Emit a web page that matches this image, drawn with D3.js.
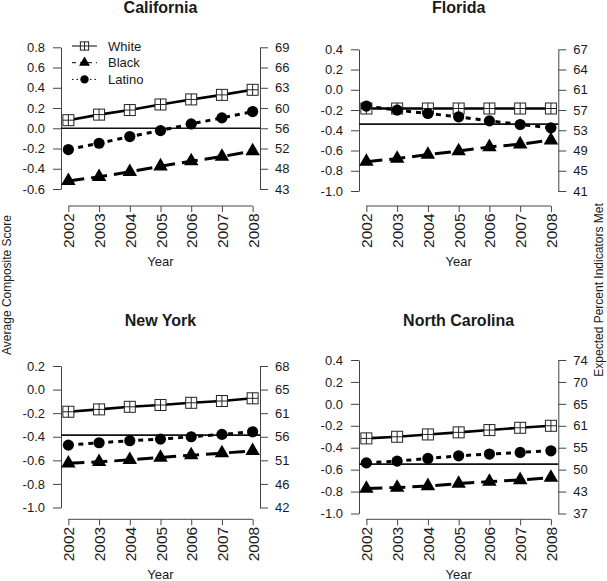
<!DOCTYPE html>
<html><head><meta charset="utf-8">
<script src="https://cdn.jsdelivr.net/npm/d3@7"></script>
<style>
html,body{margin:0;padding:0;background:#fff;}
svg{display:block;font-family:"Liberation Sans",Arial,Helvetica,sans-serif;}
</style></head>
<body><svg id="chart" width="607" height="581"></svg>
<script>
// ---------- DATA ----------
const years = [2002, 2003, 2004, 2005, 2006, 2007, 2008];
const states = ["California", "Florida", "New York", "North Carolina"];
const groups = ["White", "Black", "Latino"];

const caWhite  = [0.08, 0.135, 0.18, 0.235, 0.285, 0.33, 0.38];
const caBlack  = [-0.52, -0.48, -0.43, -0.375, -0.325, -0.28, -0.225];
const caLatino = [-0.21, -0.148, -0.082, -0.023, 0.043, 0.103, 0.165];

const flWhite  = [-0.185, -0.185, -0.185, -0.185, -0.185, -0.185, -0.185];
const flBlack  = [-0.71, -0.68, -0.64, -0.605, -0.565, -0.538, -0.498];
const flLatino = [-0.161, -0.201, -0.234, -0.267, -0.307, -0.343, -0.376];

const nyWhite  = [-0.188, -0.168, -0.146, -0.131, -0.112, -0.097, -0.074];
const nyBlack  = [-0.625, -0.613, -0.596, -0.576, -0.556, -0.539, -0.52];
const nyLatino = [-0.471, -0.451, -0.434, -0.42, -0.40, -0.38, -0.358];

const ncWhite  = [-0.315, -0.30, -0.279, -0.26, -0.239, -0.218, -0.20];
const ncBlack  = [-0.773, -0.764, -0.749, -0.727, -0.709, -0.694, -0.672];
const ncLatino = [-0.538, -0.522, -0.498, -0.474, -0.458, -0.443, -0.428];

const referenceLevel = [0.0, -0.34, -0.386, -0.55];

const caTicks = [-0.6, -0.4, -0.2, 0.0, 0.2, 0.4, 0.6, 0.8];
const flTicks = [-1.0, -0.8, -0.6, -0.4, -0.2, 0.0, 0.2, 0.4];
const nyTicks = [-1.0, -0.8, -0.6, -0.4, -0.2, 0.0, 0.2];
const ncTicks = [-1.0, -0.8, -0.6, -0.4, -0.2, 0.0, 0.2, 0.4];

const caRightLabels = ["43", "48", "52", "56", "60", "63", "66", "69"];
const flRightLabels = ["41", "45", "49", "53", "57", "61", "64", "67"];
const nyRightLabels = ["42", "46", "51", "56", "61", "65", "68"];
const ncRightLabels = ["37", "43", "50", "55", "61", "65", "70", "74"];

const leftTitle = "Average Composite Score";
const rightTitle = "Expected Percent Indicators Met";
const xTitle = "Year";

// ---------- LAYOUT ----------
const layout = [
  {left: 61,  right: 260,   yTop: 47.3, yBot: 189,   axisY: 206,   titleY: 12.5, yearY: 266},
  {left: 359, right: 558.3, yTop: 49.3, yBot: 191,   axisY: 206,   titleY: 12.5, yearY: 266},
  {left: 61,  right: 260,   yTop: 366,  yBot: 507.5, axisY: 519.3, titleY: 326,  yearY: 579},
  {left: 359, right: 558.3, yTop: 360,  yBot: 513.5, axisY: 519.3, titleY: 326,  yearY: 579}
];
const panelData = [
  {White: caWhite, Black: caBlack, Latino: caLatino, ticks: caTicks, right: caRightLabels},
  {White: flWhite, Black: flBlack, Latino: flLatino, ticks: flTicks, right: flRightLabels},
  {White: nyWhite, Black: nyBlack, Latino: nyLatino, ticks: nyTicks, right: nyRightLabels},
  {White: ncWhite, Black: ncBlack, Latino: ncLatino, ticks: ncTicks, right: ncRightLabels}
];

const lineStyle = {
  White:  {dash: null,  width: 2.6},
  Black:  {dash: "16,7", width: 3},
  Latino: {dash: "5,5",  width: 3}
};
const legendDash = {White: null, Black: "4,4", Latino: "1.5,3"};
const axisColor = "#444";
const textColor = "#1a1a1a";

const svg = d3.select("#chart");

function drawMarker(g, group, cx, cy, scale) {
  if (group === "White") {
    const s = 11 * scale, h = s / 2;
    const m = g.append("g").attr("transform", `translate(${cx},${cy})`);
    m.append("rect").attr("x", -h).attr("y", -h).attr("width", s).attr("height", s)
      .attr("fill", "#fff").attr("stroke", "#222").attr("stroke-width", 1);
    m.append("line").attr("x1", -h).attr("x2", h).attr("y1", 0).attr("y2", 0)
      .attr("stroke", "#222").attr("stroke-width", 1);
    m.append("line").attr("x1", 0).attr("x2", 0).attr("y1", -h).attr("y2", h)
      .attr("stroke", "#222").attr("stroke-width", 1);
  } else if (group === "Black") {
    const w = 14.5 * scale;
    g.append("path").attr("d", d3.symbol(d3.symbolTriangle, Math.sqrt(3) / 4 * w * w)())
      .attr("transform", `translate(${cx},${cy})`).attr("fill", "#000");
  } else {
    g.append("circle").attr("cx", cx).attr("cy", cy).attr("r", 5.6 * scale).attr("fill", "#000");
  }
}

states.forEach((name, i) => {
  const L = layout[i], D = panelData[i];
  const g = svg.append("g");
  const x = d3.scaleLinear()
    .domain([years[0] - 0.04 * (years[6] - years[0]), years[6] + 0.04 * (years[6] - years[0])])
    .range([L.left, L.right]);
  const y = d3.scaleLinear()
    .domain([D.ticks[0], D.ticks[D.ticks.length - 1]])
    .range([L.yBot, L.yTop]);

  g.append("text").attr("x", (L.left + L.right) / 2).attr("y", L.titleY)
    .attr("text-anchor", "middle").attr("font-weight", "bold").attr("font-size", 16)
    .attr("fill", textColor).text(name);

  const ax = g.append("g").attr("transform", `translate(${L.left},0)`)
    .call(d3.axisLeft(y).tickValues(D.ticks).tickFormat(d3.format(".1f"))
      .tickSize(8).tickSizeOuter(0).tickPadding(8));
  const ar = g.append("g").attr("transform", `translate(${L.right},0)`)
    .call(d3.axisRight(y).tickValues(D.ticks).tickFormat((d, k) => D.right[k])
      .tickSize(8).tickSizeOuter(0).tickPadding(7));
  [ax, ar].forEach(a => {
    a.select(".domain").attr("stroke", axisColor);
    a.selectAll(".tick line").attr("stroke", axisColor);
    a.selectAll(".tick text").attr("font-size", 13).attr("fill", textColor)
      .attr("font-family", "Liberation Sans, Arial, sans-serif");
  });
  ax.selectAll(".tick text").text(d => d3.format(".1f")(d).replace("−", "-"));

  const axb = g.append("g").attr("transform", `translate(0,${L.axisY})`)
    .call(d3.axisBottom(x).tickValues(years).tickFormat(d3.format("d")).tickSize(6).tickSizeOuter(0));
  axb.select(".domain").remove();
  axb.append("line").attr("x1", x(years[0])).attr("x2", x(years[years.length - 1]))
    .attr("y1", 0).attr("y2", 0).attr("stroke", axisColor);
  axb.selectAll(".tick line").attr("stroke", axisColor);
  axb.selectAll(".tick text").attr("font-size", 15.5).attr("fill", textColor)
    .attr("font-family", "Liberation Sans, Arial, sans-serif")
    .attr("transform", "rotate(-90)").attr("text-anchor", "end")
    .attr("x", -7.5).attr("y", 0).attr("dy", "0.36em");

  g.append("text").attr("x", (L.left + L.right) / 2).attr("y", L.yearY)
    .attr("text-anchor", "middle").attr("font-size", 13).attr("fill", textColor).text(xTitle);

  g.append("line").attr("x1", L.left).attr("x2", L.right)
    .attr("y1", y(referenceLevel[i])).attr("y2", y(referenceLevel[i]))
    .attr("stroke", "#111").attr("stroke-width", 1.7);

  const line = d3.line().x((d, k) => x(years[k])).y(d => y(d));
  groups.forEach(grp => {
    g.append("path").datum(D[grp]).attr("d", line).attr("fill", "none")
      .attr("stroke", "#000").attr("stroke-width", lineStyle[grp].width)
      .attr("stroke-dasharray", lineStyle[grp].dash);
  });
  groups.forEach(grp => {
    D[grp].forEach((v, k) => drawMarker(g, grp, x(years[k]), y(v), 1));
  });

  if (i === 0) {
    const lg = g.append("g");
    groups.forEach((grp, k) => {
      const ly = 46 + k * 16.7;
      lg.append("line").attr("x1", 72).attr("x2", 97).attr("y1", ly).attr("y2", ly)
        .attr("stroke", "#000").attr("stroke-width", 1).attr("stroke-dasharray", legendDash[grp]);
      drawMarker(lg, grp, 84.5, ly, 0.75);
      lg.append("text").attr("x", 108).attr("y", ly).attr("dy", "0.35em")
        .attr("font-size", 13).attr("fill", textColor).text(grp);
    });
  }
});

svg.append("text").attr("transform", "translate(11,285) rotate(-90)")
  .attr("text-anchor", "middle").attr("font-size", 12).attr("fill", textColor).text(leftTitle);
svg.append("text").attr("transform", "translate(603,290) rotate(-90)")
  .attr("text-anchor", "middle").attr("font-size", 12).attr("fill", textColor).text(rightTitle);
</script>
</body></html>
